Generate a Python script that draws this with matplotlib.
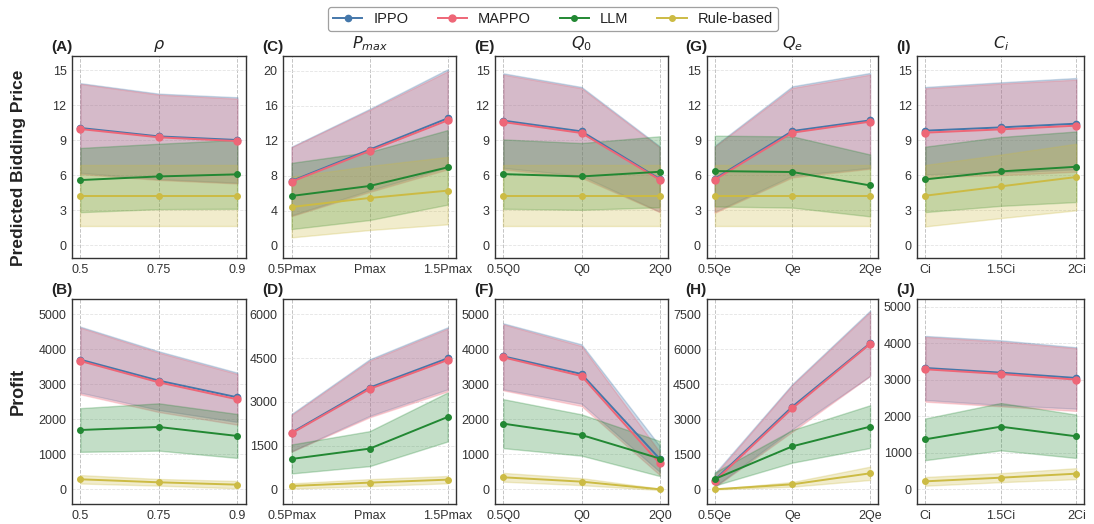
import numpy as np
import matplotlib
matplotlib.use("Agg")
import matplotlib.pyplot as plt
from matplotlib.lines import Line2D

plt.rcParams['font.family'] = ['Liberation Sans', 'DejaVu Sans']
plt.rcParams['mathtext.fontset'] = 'dejavusans'

# ---------------- data ----------------
methods = ['IPPO', 'MAPPO', 'LLM', 'Rule-based']
colors = ['#4477AA', '#EE6677', '#228833', '#CCBB44']

col_titles = [r'$\rho$', r'$P_{max}$', r'$Q_0$', r'$Q_e$', r'$C_i$']
xticklabels = [['0.5', '0.75', '0.9'],
               ['0.5Pmax', 'Pmax', '1.5Pmax'],
               ['0.5Q0', 'Q0', '2Q0'],
               ['0.5Qe', 'Qe', '2Qe'],
               ['Ci', '1.5Ci', '2Ci']]
top_letters = ['(A)', '(C)', '(E)', '(G)', '(I)']
bot_letters = ['(B)', '(D)', '(F)', '(H)', '(J)']

# Predicted bidding price: means and std per column (rho, Pmax, Q0, Qe, Ci)
price_ippo_mean = [[10.06, 9.34, 9.03], [7.39, 10.97, 14.55], [10.69, 9.77, 5.69], [5.71, 9.80, 10.71], [9.83, 10.11, 10.43]]
price_ippo_std = [[3.84, 3.66, 3.66], [3.92, 4.65, 5.60], [4.05, 3.80, 2.80], [2.83, 3.83, 4.06], [3.74, 3.86, 3.91]]
price_mappo_mean = [[9.97, 9.26, 8.94], [7.31, 10.82, 14.32], [10.57, 9.63, 5.63], [5.63, 9.66, 10.60], [9.66, 9.94, 10.26]]
price_mappo_std = [[3.86, 3.65, 3.63], [3.93, 4.68, 5.60], [4.06, 3.83, 2.77], [2.83, 3.83, 4.03], [3.80, 3.92, 3.94]]
price_llm_mean = [[5.60, 5.91, 6.09], [5.68, 6.82, 8.95], [6.11, 5.91, 6.31], [6.37, 6.29, 5.14], [5.66, 6.34, 6.74]]
price_llm_std = [[2.75, 2.80, 2.95], [3.78, 3.89, 4.26], [2.97, 2.86, 3.04], [3.03, 3.05, 2.65], [2.80, 2.95, 3.02]]
price_rule_mean = [[4.25, 4.25, 4.25], [4.42, 5.45, 6.29], [4.25, 4.25, 4.25], [4.25, 4.25, 4.25], [4.26, 5.06, 5.86]]
price_rule_std = [[2.61, 2.61, 2.61], [3.47, 3.66, 3.85], [2.61, 2.61, 2.61], [2.61, 2.61, 2.61], [2.63, 2.72, 2.85]]

# Profit
profit_ippo_mean = [[3705, 3105, 2629], [1943, 3486, 4491], [3800, 3295, 870], [400, 3543, 6257], [3321, 3193, 3047]]
profit_ippo_std = [[943, 838, 704], [640, 971, 1063], [943, 848, 370], [280, 971, 1400], [876, 885, 840]]
profit_mappo_mean = [[3667, 3057, 2571], [1920, 3440, 4434], [3771, 3238, 740], [357, 3471, 6229], [3285, 3157, 3002]]
profit_mappo_std = [[952, 848, 724], [629, 971, 1075], [943, 857, 330], [260, 1000, 1371], [885, 885, 857]]
profit_llm_mean = [[1695, 1781, 1524], [1040, 1394, 2480], [1876, 1552, 880], [443, 1843, 2686], [1369, 1715, 1451]]
profit_llm_std = [[624, 676, 628], [497, 600, 840], [700, 590, 500], [280, 700, 915], [570, 648, 593]]
profit_rule_mean = [[286, 200, 133], [114, 229, 331], [343, 219, 0], [0, 214, 686], [219, 319, 429]]
profit_rule_std = [[120, 95, 105], [90, 120, 125], [125, 100, 20], [5, 100, 285], [119, 123, 150]]

price_means = [price_ippo_mean, price_mappo_mean, price_llm_mean, price_rule_mean]
price_stds = [price_ippo_std, price_mappo_std, price_llm_std, price_rule_std]
profit_means = [profit_ippo_mean, profit_mappo_mean, profit_llm_mean, profit_rule_mean]
profit_stds = [profit_ippo_std, profit_mappo_std, profit_llm_std, profit_rule_std]

# ---------------- layout ----------------
W, H = 1094, 524
fig = plt.figure(figsize=(W / 100, H / 100), dpi=100)

col_left = [72, 283.3, 495, 706.5, 917.3]
col_w = [173.7, 172.7, 173, 171.8, 167]
row_top = [55.7, 299.3]
row_bot = [258.3, 504]

top_ylim = [(-1.1, 16.25), (-1.44, 21.7), (-1.1, 16.25), (-1.1, 16.25), (-1.1, 16.25)]
top_yticks = [np.arange(0, 16, 3), np.arange(0, 21, 4), np.arange(0, 16, 3), np.arange(0, 16, 3), np.arange(0, 16, 3)]
bot_ylim = [(-420, 5430), (-504, 6514), (-420, 5430), (-629, 8143), (-401, 5200)]
bot_yticks = [np.arange(0, 5001, 1000), np.arange(0, 6001, 1500), np.arange(0, 5001, 1000),
              np.arange(0, 7501, 1500), np.arange(0, 5001, 1000)]

msizes = [4.5, 5, 4, 4]
text_color = '#333333'


def style_axes(ax, xt, ylim, yticks):
    ax.set_xlim(-0.106, 2.106)
    ax.set_ylim(*ylim)
    ax.set_xticks([0, 1, 2])
    ax.set_xticklabels(xt)
    ax.set_yticks(yticks)
    ax.tick_params(axis='both', length=0, labelsize=9, colors=text_color, pad=4)
    ax.grid(axis='x', linestyle='--', color='#c4c4c4', linewidth=0.7)
    ax.grid(axis='y', linestyle='--', color='#e4e4e4', linewidth=0.6)
    ax.set_axisbelow(True)
    for s in ax.spines.values():
        s.set_color('#333333')
        s.set_linewidth(1.0)


def draw(ax, means, stds, c):
    x = np.arange(3)
    for k in range(4):
        m = np.array(means[k][c], dtype=float)
        s = np.array(stds[k][c], dtype=float)
        ax.fill_between(x, m - s, m + s, color=colors[k], alpha=0.27, linewidth=1.0, zorder=1 + k * 0.1)
    for k in range(4):
        m = np.array(means[k][c], dtype=float)
        ax.plot(x, m, color=colors[k], marker='o', markersize=msizes[k], linewidth=1.4, zorder=3 + k * 0.1)


for c in range(5):
    for r in range(2):
        l = col_left[c]
        w = col_w[c]
        t = row_top[r]
        b = row_bot[r]
        ax = fig.add_axes([l / W, 1 - b / H, w / W, (b - t) / H])
        if r == 0:
            draw(ax, price_means, price_stds, c)
            style_axes(ax, xticklabels[c], top_ylim[c], top_yticks[c])
            ax.set_title(col_titles[c], fontsize=11.5, pad=5, color='#222222')
            letter = top_letters[c]
        else:
            draw(ax, profit_means, profit_stds, c)
            style_axes(ax, xticklabels[c], bot_ylim[c], bot_yticks[c])
            letter = bot_letters[c]
        ax.annotate(letter, xy=(0, 1), xycoords='axes fraction', xytext=(-21 * 0.72, 5 * 0.72),
                    textcoords='offset points', ha='left', va='baseline', fontsize=11,
                    fontweight='bold', color='#222222')

fig.text(18.5 / W, 1 - 168 / H, 'Predicted Bidding Price', rotation=90, ha='center', va='center',
         fontsize=12.5, fontweight='bold', color='#222222')
fig.text(18.5 / W, 1 - 391 / H, 'Profit', rotation=90, ha='center', va='center',
         fontsize=13, fontweight='bold', color='#222222')

handles = [Line2D([], [], color=colors[k], marker='o', markersize=msizes[k], linewidth=1.4) for k in range(4)]
leg = fig.legend(handles, methods, loc='upper center', bbox_to_anchor=(553 / W, 1 - 7 / H), ncol=4,
                 fontsize=10.5, frameon=True, fancybox=True, columnspacing=2.0, handlelength=2.0,
                 handletextpad=0.75, borderpad=0.35, borderaxespad=0.0)
leg.get_frame().set_edgecolor('#888888')
leg.get_frame().set_linewidth(0.9)
for t in leg.get_texts():
    t.set_color('#222222')

fig.savefig('out.png', dpi=100)
